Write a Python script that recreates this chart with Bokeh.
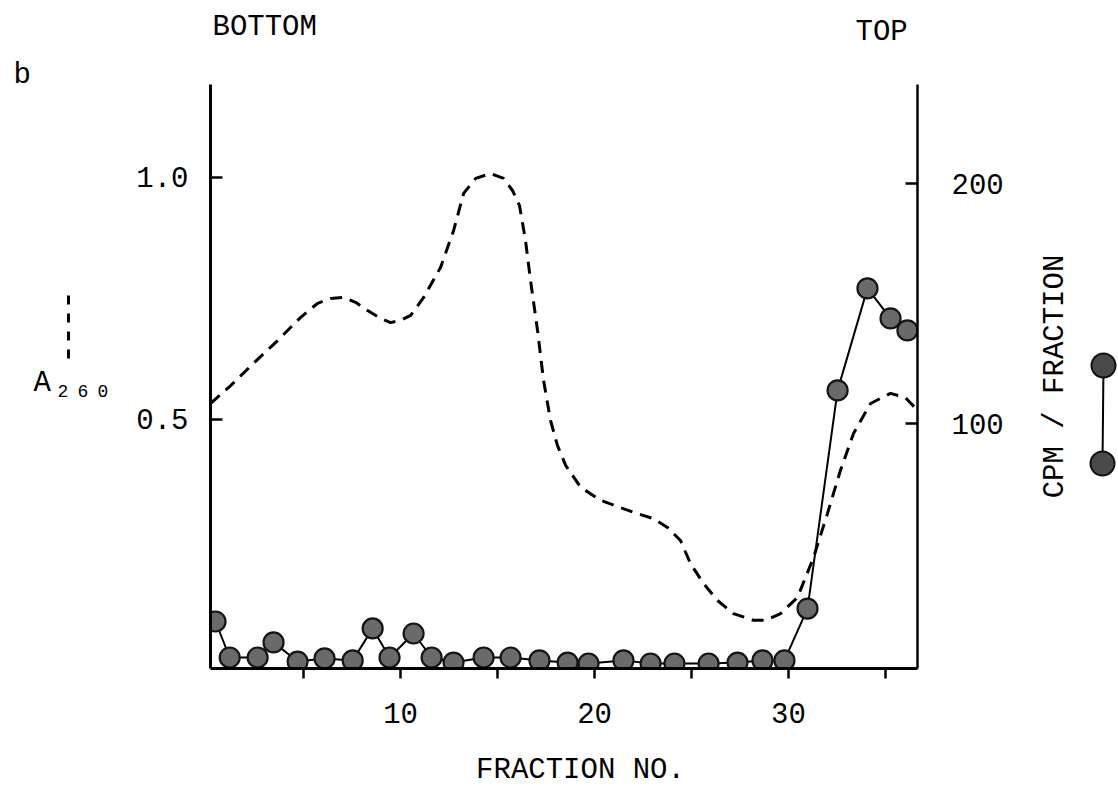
import numpy as np
from bokeh.plotting import figure
from bokeh.models import Range1d, LinearAxis, FixedTicker, Plot
from bokeh.layouts import row, column
from bokeh.embed import file_html
from bokeh.resources import INLINE
from bokeh.core.properties import value

FONT = "Liberation Mono"
FS = "29px"

# ---- data: A260 (dashed profile), fraction number vs absorbance ----
a260_x = [0.21, 1.24, 2.42, 3.66, 4.85, 5.72, 6.39, 7.06, 7.68, 8.30, 8.97, 9.48, 10.0, 10.52,
          11.19, 12.06, 12.73, 13.25, 13.87, 14.64, 15.31, 15.77, 16.13, 16.44, 16.70, 17.06,
          17.37, 17.73, 18.09, 18.51, 19.28, 20.31, 22.01, 23.04, 23.76, 24.43, 24.95, 25.62,
          26.34, 27.16, 28.20, 28.81, 29.59, 30.46, 31.29, 32.01, 32.68, 33.35, 34.23, 35.26,
          36.03, 36.65]
a260_y = [0.533, 0.570, 0.616, 0.663, 0.711, 0.740, 0.750, 0.752, 0.742, 0.725, 0.709, 0.700,
          0.705, 0.715, 0.752, 0.814, 0.890, 0.967, 0.998, 1.008, 0.998, 0.973, 0.942, 0.870,
          0.787, 0.684, 0.581, 0.498, 0.446, 0.405, 0.360, 0.333, 0.308, 0.295, 0.277, 0.250,
          0.202, 0.161, 0.126, 0.099, 0.085, 0.085, 0.099, 0.132, 0.215, 0.306, 0.395, 0.471,
          0.533, 0.554, 0.545, 0.519]

# ---- data: radioactivity (CPM / fraction) ----
cpm_x = [0.46, 1.19, 2.63, 3.45, 4.69, 6.08, 7.53, 8.56, 9.43, 10.67, 11.60, 12.73, 14.28,
         15.67, 17.16, 18.61, 19.69, 21.49, 22.89, 24.12, 25.88, 27.37, 28.66, 29.79, 30.98,
         32.53, 34.07, 35.26, 36.13]
cpm_y = [17.5, 2.5, 2.5, 8.8, 0.8, 2.1, 1.3, 14.6, 2.5, 12.5, 2.5, 0.4, 2.5, 2.5, 1.3, 0.4,
         0.0, 1.3, 0.0, 0.0, 0.0, 0.4, 1.3, 1.3, 22.9, 113.8, 156.3, 143.8, 138.8]

x_ticks = [5, 10, 15, 20, 25, 30, 35]
x_tick_text = {5: "", 10: "10", 15: "", 20: "20", 25: "", 30: "30", 35: ""}
left_ticks = [0.5, 1.0]
left_tick_text = {0.5: "0.5", 1.0: "1.0"}
right_ticks = [100, 200]

# ---- page geometry (pixels) ----
W, H = 1118, 796
TOP_H = 50          # strip above the plot (direction labels)
BOT_H = 56          # strip below the tick labels (axis title)
MID_H = H - TOP_H - BOT_H
FRAME_TOP = 84
FRAME_BOTTOM = 668
L_W = 115
M_RIGHT = 1015
M_W = M_RIGHT - L_W
R_W = W - M_RIGHT
MB_TOP = FRAME_TOP - TOP_H
MB_BOTTOM = MID_H - (FRAME_BOTTOM - TOP_H)

can_free = "frame_align" in Plot.properties()
extra = {"frame_align": False} if can_free else {}


def strip(width, height, x0, x1, y_top, y_bottom, mb_top=0, mb_bottom=0):
    f = figure(width=width, height=height, x_range=Range1d(x0, x1),
               y_range=Range1d(y_bottom, y_top), output_backend="svg",
               toolbar_location=None, min_border_left=0, min_border_right=0,
               min_border_top=mb_top, min_border_bottom=mb_bottom,
               x_axis_location=None, y_axis_location=None, title=None, **extra)
    f.grid.visible = False
    f.outline_line_color = None
    f.background_fill_color = "white"
    f.border_fill_color = "white"
    return f


def txt(f, xs, ys, texts, size=FS, align="left", baseline="middle", angle=0.0):
    f.text(x=xs, y=ys, text=texts, text_font=value(FONT), text_font_size=size,
           text_align=align, text_baseline=baseline, angle=angle, text_color="black")


# ---------------- main plot ----------------
p = figure(width=M_W, height=MID_H, x_range=Range1d(0.2, 36.65),
           y_range=Range1d(-0.0145, 1.192), output_backend="svg", toolbar_location=None,
           min_border_left=210 - L_W, min_border_right=M_RIGHT - 917,
           min_border_top=MB_TOP, min_border_bottom=MB_BOTTOM, title=None, **extra)
p.extra_y_ranges = {"cpm": Range1d(-2.083, 241.25)}
p.xgrid.visible = False
p.ygrid.visible = False
p.outline_line_color = None
p.background_fill_color = "white"
p.border_fill_color = "white"

xa = p.xaxis[0]
xa.ticker = FixedTicker(ticks=x_ticks)
xa.major_label_overrides = x_tick_text
xa.major_tick_in = 0
xa.major_tick_out = 10
xa.minor_tick_line_color = None
xa.axis_line_width = 3
xa.major_tick_line_width = 2.5
xa.major_label_standoff = 24
xa.major_label_text_font = FONT
xa.major_label_text_font_size = FS
xa.major_label_text_color = "black"

ya = p.yaxis[0]
ya.ticker = FixedTicker(ticks=left_ticks)
ya.major_label_overrides = left_tick_text
ya.major_tick_in = 12
ya.major_tick_out = 0
ya.minor_tick_line_color = None
ya.axis_line_width = 3
ya.major_tick_line_width = 2.5
ya.major_label_standoff = 22
ya.major_label_text_font = FONT
ya.major_label_text_font_size = FS
ya.major_label_text_color = "black"

ra = LinearAxis(y_range_name="cpm", ticker=FixedTicker(ticks=right_ticks))
ra.major_tick_in = 12
ra.major_tick_out = 0
ra.minor_tick_line_color = None
ra.axis_line_width = 2.5
ra.major_tick_line_width = 2.5
ra.major_label_standoff = 34
ra.major_label_text_font = FONT
ra.major_label_text_font_size = FS
ra.major_label_text_color = "black"
p.add_layout(ra, "right")

p.line(a260_x, a260_y, line_dash="12 8", line_width=3, line_color="black")
p.line(cpm_x, cpm_y, y_range_name="cpm", line_width=2, line_color="black")
p.scatter(cpm_x, cpm_y, y_range_name="cpm", marker="circle", size=20,
          fill_color="#6a6a6a", line_color="#151515", line_width=2.2)

# ---------------- top strip: gradient direction ----------------
pt = strip(W, TOP_H, 0, W, 0, TOP_H)
txt(pt, [212], [27], ["BOTTOM"])
txt(pt, [855], [32], ["TOP"])

# ---------------- left strip: panel letter and A260 key ----------------
if can_free:
    pl = strip(L_W, MID_H, 0, L_W, TOP_H, FRAME_BOTTOM, mb_top=0, mb_bottom=MB_BOTTOM)
    txt(pl, [13], [75], ["b"])
else:
    pl = strip(L_W, MID_H, 0, L_W, FRAME_TOP, FRAME_BOTTOM, mb_top=MB_TOP, mb_bottom=MB_BOTTOM)
    txt(pt, [13], [40], ["b"])
txt(pl, [33], [383], ["A"])
txt(pl, [57, 77, 97], [390, 390, 390], ["2", "6", "0"], size="18px")
pl.line([68, 68], [295, 367], line_dash="9 9", line_width=3, line_color="black")

# ---------------- right strip: CPM axis title and key ----------------
pr = strip(R_W, MID_H, M_RIGHT, W, FRAME_TOP, FRAME_BOTTOM, mb_top=MB_TOP, mb_bottom=MB_BOTTOM)
txt(pr, [1055], [376], ["CPM / FRACTION"], align="center", angle=np.pi / 2)
key_x = [1103, 1102]
key_y = [365, 463]
pr.line(key_x, key_y, line_width=2, line_color="black")
pr.scatter(key_x, key_y, marker="circle", size=24, fill_color="#4a4a4a",
           line_color="#111111", line_width=2)

# ---------------- bottom strip: x axis title ----------------
pb = strip(W, BOT_H, 0, W, H - BOT_H, H)
txt(pb, [580], [770], ["FRACTION NO."], align="center")

layout = column(pt, row(pl, p, pr, spacing=0), pb, spacing=0)
open("out.html", "w").write(file_html(layout, INLINE))
